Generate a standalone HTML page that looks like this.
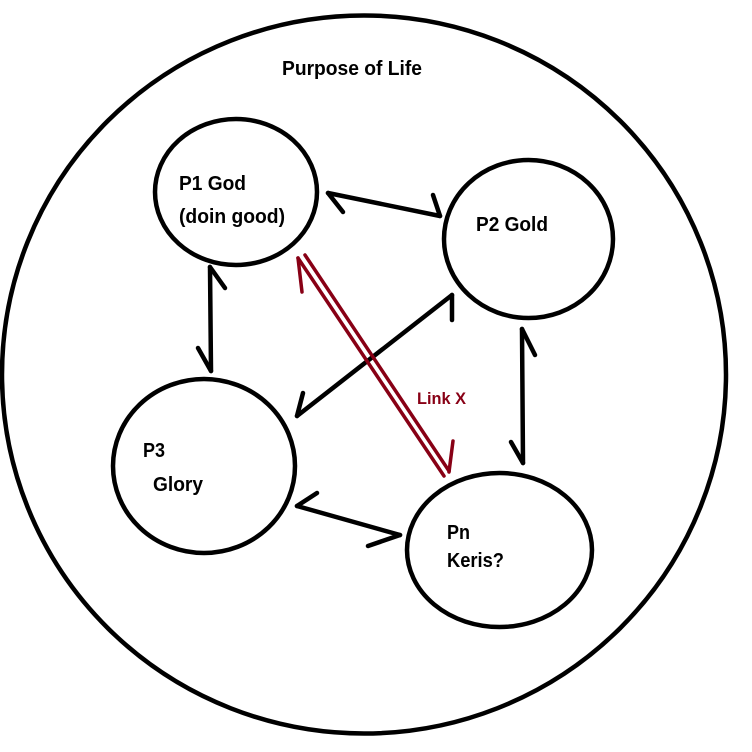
<!DOCTYPE html>
<html>
<head>
<meta charset="utf-8">
<style>
  html, body { margin: 0; padding: 0; background: #ffffff; }
  svg { display: block; }
  text { font-family: "Liberation Sans", "DejaVu Sans", sans-serif; font-weight: bold; }
</style>
</head>
<body>
<svg width="752" height="752" viewBox="0 0 752 752" xmlns="http://www.w3.org/2000/svg">
  <rect x="0" y="0" width="752" height="752" fill="#ffffff"/>

  <!-- Outer circle -->
  <ellipse cx="364" cy="374.5" rx="362" ry="359" fill="none" stroke="#000" stroke-width="4.5"/>

  <!-- Node circles -->
  <ellipse cx="236" cy="192" rx="81" ry="73" fill="none" stroke="#000" stroke-width="4.5"/>
  <ellipse cx="528.5" cy="239" rx="84.5" ry="79" fill="none" stroke="#000" stroke-width="4.5"/>
  <ellipse cx="204" cy="466" rx="91" ry="87" fill="none" stroke="#000" stroke-width="4.5"/>
  <ellipse cx="499.5" cy="550" rx="92.5" ry="77" fill="none" stroke="#000" stroke-width="4.5"/>

  <!-- Black arrows -->
  <g stroke="#000" stroke-width="4.5" stroke-linecap="round" fill="none">
    <!-- P1 <-> P2 -->
    <line x1="328" y1="193" x2="440" y2="216"/>
    <line x1="328" y1="193" x2="343" y2="212"/>
    <line x1="440" y1="216" x2="433" y2="195"/>
    <!-- P1 <-> P3 -->
    <line x1="210" y1="267" x2="211" y2="371"/>
    <line x1="210" y1="267" x2="225" y2="288"/>
    <line x1="211" y1="371" x2="198" y2="348"/>
    <!-- P2 <-> P3 diagonal -->
    <line x1="452" y1="295" x2="297" y2="416"/>
    <line x1="452" y1="295" x2="452" y2="320"/>
    <line x1="297" y1="416" x2="303" y2="393"/>
    <!-- P2 <-> Pn -->
    <line x1="522" y1="329" x2="523" y2="463"/>
    <line x1="522" y1="329" x2="535" y2="355"/>
    <line x1="523" y1="463" x2="511" y2="442"/>
    <!-- P3 <-> Pn -->
    <line x1="297" y1="506" x2="400" y2="535"/>
    <line x1="297" y1="506" x2="317" y2="493"/>
    <line x1="400" y1="535" x2="368" y2="546"/>
  </g>

  <!-- Red double link -->
  <g stroke="#880015" stroke-width="3.5" stroke-linecap="round" fill="none">
    <line x1="298" y1="258" x2="444" y2="476"/>
    <line x1="305" y1="255" x2="449" y2="471"/>
    <line x1="298" y1="258" x2="302" y2="292"/>
    <line x1="449" y1="472" x2="453" y2="441"/>
  </g>

  <!-- Labels -->
  <text x="282" y="75" font-size="20" fill="#000" textLength="140" lengthAdjust="spacingAndGlyphs">Purpose of Life</text>
  <text x="179" y="190" font-size="20" fill="#000" textLength="67" lengthAdjust="spacingAndGlyphs">P1 God</text>
  <text x="179" y="223" font-size="20" fill="#000" textLength="106" lengthAdjust="spacingAndGlyphs">(doin good)</text>
  <text x="476" y="231" font-size="20" fill="#000" textLength="72" lengthAdjust="spacingAndGlyphs">P2 Gold</text>
  <text x="143" y="457" font-size="20" fill="#000" textLength="22" lengthAdjust="spacingAndGlyphs">P3</text>
  <text x="153" y="491" font-size="20" fill="#000" textLength="50" lengthAdjust="spacingAndGlyphs">Glory</text>
  <text x="447" y="539" font-size="20" fill="#000" textLength="23" lengthAdjust="spacingAndGlyphs">Pn</text>
  <text x="447" y="567" font-size="20" fill="#000" textLength="57" lengthAdjust="spacingAndGlyphs">Keris?</text>
  <text x="417" y="404" font-size="17" fill="#880015" textLength="49" lengthAdjust="spacingAndGlyphs">Link X</text>
</svg>
</body>
</html>
